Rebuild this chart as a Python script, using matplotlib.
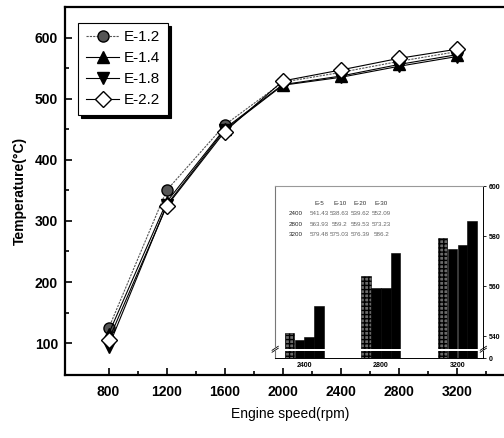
import numpy as np
import matplotlib
matplotlib.use("Agg")
import matplotlib.pyplot as plt

plt.rcParams["font.family"] = ["Liberation Sans", "DejaVu Sans"]

# main chart data
speed = [800, 1200, 1600, 2000, 2400, 2800, 3200]
series_names = ["E-1.2", "E-1.4", "E-1.8", "E-2.2"]
temp_e12 = [124, 350, 457, 527, 543, 561, 577]
temp_e14 = [115, 331, 451, 523, 537, 556, 572]
temp_e18 = [94, 326, 449, 522, 535, 553, 569]
temp_e22 = [105, 324, 446, 529, 547, 566, 581]

# inset data
inset_speeds = ["2400", "2800", "3200"]
inset_names = ["E-5", "E-10", "E-20", "E-30"]
inset_e5 = [541.43, 563.93, 579.48]
inset_e10 = [538.63, 559.2, 575.03]
inset_e20 = [539.62, 559.53, 576.39]
inset_e30 = [552.09, 573.23, 586.2]
inset_rows = [
    ["541.43", "538.63", "539.62", "552.09"],
    ["563.93", "559.2", "559.53", "573.23"],
    ["579.48", "575.03", "576.39", "586.2"],
]

fig = plt.figure(figsize=(5.04, 4.38), dpi=100)
ax = fig.add_axes([0.129, 0.144, 0.893, 0.840])

styles = [
    dict(marker="o", mfc="#555555", mec="black", ms=8, color="#555555",
         ls=(0, (2, 1)), lw=0.8),
    dict(marker="^", mfc="black", mec="black", ms=9, color="black",
         ls="-", lw=0.8),
    dict(marker="v", mfc="black", mec="black", ms=9, color="black",
         ls="-", lw=0.8),
    dict(marker="D", mfc="white", mec="black", ms=8, color="black",
         ls="-", lw=0.8, mew=1.0),
]
for vals, name, st in zip([temp_e12, temp_e14, temp_e18, temp_e22],
                          series_names, styles):
    ax.plot(speed, vals, label=name, **st)

ax.set_xlim(500, 3600)
ax.set_ylim(48, 650)
ax.set_xticks(speed)
ax.set_yticks([100, 200, 300, 400, 500, 600])
ax.set_xticks([1000, 1400, 1800, 2200, 2600, 3000, 3400], minor=True)
ax.set_yticks([150, 250, 350, 450, 550], minor=True)
ax.tick_params(which="both", direction="in", width=1.2)
ax.tick_params(which="major", length=5, labelsize=10)
ax.tick_params(axis="x", which="major", pad=7)
ax.tick_params(axis="y", which="major", pad=5)
ax.tick_params(which="minor", length=3)
for lab in ax.get_xticklabels() + ax.get_yticklabels():
    lab.set_fontweight("bold")
for sp in ax.spines.values():
    sp.set_linewidth(1.6)

ax.set_xlabel("Engine speed(rpm)", fontsize=10, labelpad=6)
ax.set_ylabel("Temperature(°C)", fontsize=10, fontweight="bold", labelpad=6)

leg = ax.legend(loc="upper left", bbox_to_anchor=(0.029, 0.957),
                borderaxespad=0, fontsize=11, frameon=True, fancybox=False,
                edgecolor="black", shadow={"color": "black", "alpha": 1.0},
                handlelength=2.2, labelspacing=0.45, borderpad=0.5,
                handletextpad=0.3)
leg.get_frame().set_linewidth(0.8)

# inset: broken y axis (top part 535-600, bottom stub at 0)
x = np.arange(len(inset_speeds))
w = 0.125
ax_top = fig.add_axes([0.546, 0.2032, 0.413, 0.372])
ax_bot = fig.add_axes([0.546, 0.1826, 0.413, 0.016])
inset_vals = [inset_e5, inset_e10, inset_e20, inset_e30]
for a in (ax_top, ax_bot):
    for i, vals in enumerate(inset_vals):
        if i == 0:
            a.bar(x + (i - 1.5) * (w + 0.005), vals, width=w,
                  color="#6a6a6a", edgecolor="black", hatch="++++",
                  linewidth=0.4)
        else:
            a.bar(x + (i - 1.5) * (w + 0.005), vals, width=w,
                  color="black", edgecolor="black", linewidth=0.4)
    a.set_xlim(-0.38, 2.34)
    a.patch.set_alpha(0)

ax_top.set_ylim(535, 600)
ax_top.set_yticks([540, 560, 580, 600])
ax_top.yaxis.tick_right()
ax_top.tick_params(axis="y", direction="out", length=2.5, width=0.6,
                   labelsize=5, pad=1.5)
ax_top.set_xticks([])
ax_top.spines["bottom"].set_visible(False)
ax_top.spines["left"].set_linestyle((0, (1, 1)))
ax_top.spines["left"].set_color("#777777")
ax_top.spines["top"].set_linestyle((0, (1, 1)))
ax_top.spines["top"].set_color("#999999")
ax_top.spines["right"].set_linewidth(0.7)
for lab in ax_top.get_yticklabels():
    lab.set_fontweight("bold")

ax_bot.set_ylim(0, 20)
ax_bot.set_yticks([0])
ax_bot.yaxis.tick_right()
ax_bot.tick_params(axis="y", direction="out", length=2.5, width=0.6,
                   labelsize=5, pad=1.5)
ax_bot.set_xticks(x)
ax_bot.set_xticklabels(inset_speeds)
ax_bot.tick_params(axis="x", length=0, labelsize=5, pad=3)
ax_bot.spines["top"].set_visible(False)
ax_bot.spines["left"].set_linestyle((0, (1, 1)))
ax_bot.spines["left"].set_color("#777777")
ax_bot.spines["bottom"].set_linewidth(0.7)
ax_bot.spines["right"].set_linewidth(0.7)
for lab in ax_bot.get_yticklabels() + ax_bot.get_xticklabels():
    lab.set_fontweight("bold")

# break marks on the inset axis
for dy in (0.0, 0.012):
    ax_top.plot([0.985, 1.015], [-0.02 + dy, 0.005 + dy],
                transform=ax_top.transAxes, color="black", lw=0.6,
                clip_on=False)
    ax_top.plot([-0.015, 0.015], [-0.02 + dy, 0.005 + dy],
                transform=ax_top.transAxes, color="black", lw=0.6,
                clip_on=False)

# small value table inside the inset
col_x = [0.21, 0.31, 0.41, 0.51]
row_y = [0.895, 0.83, 0.765, 0.70]
for cx, name in zip(col_x, inset_names):
    ax_top.text(cx, row_y[0], name, transform=ax_top.transAxes,
                fontsize=4.5, color="#333333", ha="center", va="center")
for ry, spd, row in zip(row_y[1:], inset_speeds, inset_rows):
    ax_top.text(0.10, ry, spd, transform=ax_top.transAxes,
                fontsize=4.5, color="#222222", ha="center", va="center")
    for cx, v in zip(col_x, row):
        ax_top.text(cx, ry, v, transform=ax_top.transAxes,
                    fontsize=4.5, color="#666666", ha="center", va="center")

fig.savefig("out.png", dpi=100)
